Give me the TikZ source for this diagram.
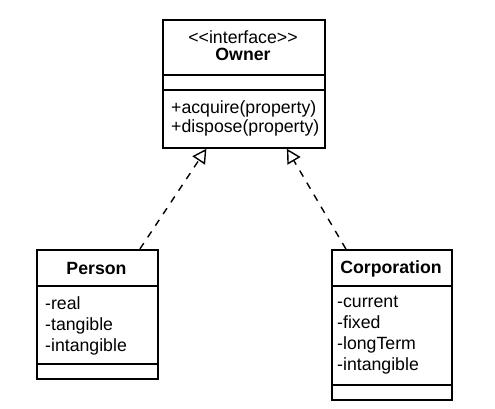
\documentclass[tikz,border=0pt]{standalone}
\usepackage{fontspec}
\setmainfont{Liberation Sans}
\usetikzlibrary{arrows.meta}

\begin{document}
\begin{tikzpicture}[x=1pt,y=-1pt,
  classbox/.style={draw,line width=1.8pt,inner sep=0pt,anchor=north west},
  member/.style={anchor=west,inner sep=0pt,align=left,font=\fontsize{17.7}{21}\selectfont},
  title/.style={inner sep=0pt,font=\fontsize{17.7}{21}\selectfont\bfseries},
  realize/.style={line width=1.4pt,dash pattern=on 7pt off 7pt,
    -{Triangle[open,length=14pt,width=15pt,line width=1.4pt]}}]
  \useasboundingbox (0,0) rectangle (495,409);
  % interface
  \node[classbox,minimum width=162pt,minimum height=128pt] (owner) at (162,19) {};
  \draw[line width=1.8pt] (162,75) -- (324,75);
  \draw[line width=1.8pt] (162,90) -- (324,90);
  \node[inner sep=0pt,font=\fontsize{17.7}{21}\selectfont] (stereo) at (243,37) {{<}{<}interface{>}{>}};
  \node[title] (ownername) at (243,54) {Owner};
  \node[member,font=\fontsize{17.7}{19}\selectfont] (ownerops) at (171,118.5) {+acquire(property)\\+dispose(property)};
  % classes
  \node[classbox,minimum width=121pt,minimum height=129pt] (person) at (36,249) {};
  \draw[line width=1.8pt] (36,286) -- (157,286);
  \draw[line width=1.8pt] (36,364) -- (157,364);
  \node[title] (personname) at (96.5,268) {Person};
  \node[member] (personattr) at (45,326) {-real\\-tangible\\-intangible};
  \node[classbox,minimum width=120pt,minimum height=150pt] (corp) at (331,249) {};
  \draw[line width=1.8pt] (331,286) -- (451,286);
  \draw[line width=1.8pt] (331,385) -- (451,385);
  \node[title] (corpname) at (391,269) {Corporation};
  \node[member] (corpattr) at (337,335) {-current\\-fixed\\-longTerm\\-intangible};
  % realizations
  \draw[realize] ([xshift=42.5pt]person.north) -- ([xshift=-37.5pt]owner.south);
  \draw[realize] ([xshift=-46pt]corp.north) -- ([xshift=43pt]owner.south);
\end{tikzpicture}
\end{document}
